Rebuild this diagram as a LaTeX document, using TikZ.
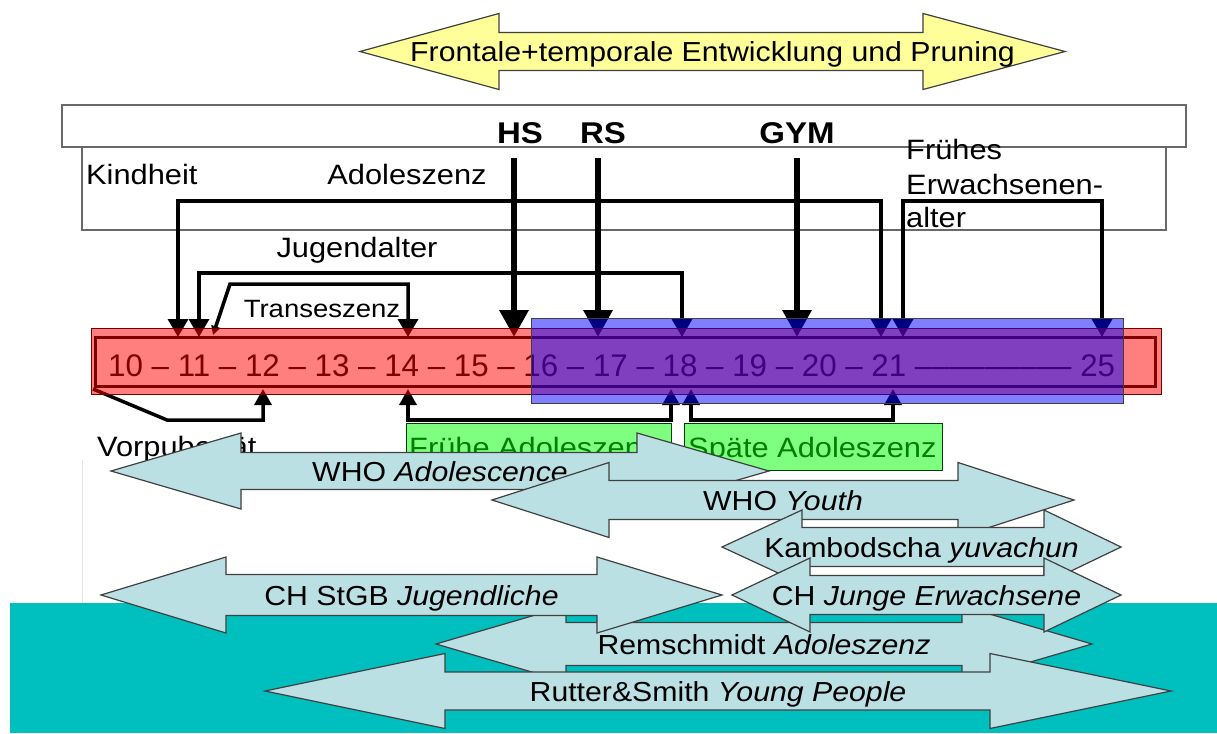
\documentclass[tikz,border=0pt]{standalone}
\usepackage{fontspec}
\setmainfont{Liberation Sans}[FakeStretch=1.1]
\newfontfamily\agesfont{Liberation Sans}
\usetikzlibrary{arrows.meta}
\definecolor{tealbg}{RGB}{0,191,191}
\definecolor{lblue}{RGB}{187,224,228}
\definecolor{lyellow}{RGB}{255,255,153}
\definecolor{edgegray}{RGB}{64,64,64}
\definecolor{boxgray}{RGB}{105,105,105}
\definecolor{faintgray}{RGB}{228,228,228}
\colorlet{arrfill}{lblue}

\newcommand\dblarr[9]{%
  \path[arrowshape] (#2,#6) -- (#3,#6-#7) -- (#3,#6-#8) -- (#4,#6-#8) -- (#4,#6-#7) -- (#5,#6)
     -- (#4,#6+#7) -- (#4,#6+#8) -- (#3,#6+#8) -- (#3,#6+#7) -- cycle;
  \node[arrlabel] (#1) at ({(#2+#5)/2},{#6+10}) {#9};}

\tikzset{
  arrowshape/.style={fill=arrfill, draw=edgegray, line width=1.2pt, line join=miter},
  arrlabel/.style={anchor=base, inner sep=0pt, font=\fontsize{27.5}{30}\selectfont},
  lbl/.style={inner sep=0pt, font=\fontsize{28}{32}\selectfont},
  boldlbl/.style={anchor=base, inner sep=0pt, font=\bfseries\fontsize{30}{32}\selectfont},
  thintip/.tip={Triangle[length=18pt,width=20pt]},
  bigtip/.tip={Triangle[length=27pt,width=28pt]},
  uptip/.tip={Triangle[length=16pt,width=17pt]},
  smalltip/.tip={Triangle[length=9pt,width=9pt]},
  conn/.style={line width=3.5pt},
  thickconn/.style={line width=6.5pt},
  gtextstyle/.style={anchor=base west, inner sep=0pt, font=\fontsize{28}{32}\selectfont},
  gbox/.style={fill=green, fill opacity=0.5, draw=black!75!green, line width=1pt, inner sep=0pt},
}

\begin{document}
\begin{tikzpicture}[x=1pt,y=-1pt]
\useasboundingbox (0,0) rectangle (1217,733);
\fill[white] (0,0) rectangle (1217,733);
% background
\fill[tealbg] (10,603) rectangle (1217,733);
\draw[faintgray, line width=1pt] (82,460) -- (82,603);

% yellow double arrow
\colorlet{arrfill}{lyellow}
\dblarr{front}{360}{499}{923}{1065}{51.5}{38}{19}{Frontale+temporale Entwicklung und Pruning}
\colorlet{arrfill}{lblue}

% header rectangles
\draw[boxgray, line width=1.5pt] (82,147) rectangle (1166,230);
\draw[boxgray, line width=2pt, fill=white] (62,105) rectangle (1186,147);

% labels
\node[boldlbl] (hs) at (520,143) {HS};
\node[boldlbl] (rs) at (603,143) {RS};
\node[boldlbl] (gym) at (797,143) {GYM};
\node[lbl, anchor=base west] (kindheit) at (86,184) {Kindheit};
\node[lbl, anchor=base] (adol) at (407,184) {Adoleszenz};
\node[lbl, anchor=base west] (fr1) at (906,159) {Frühes};
\node[lbl, anchor=base west] (fr2) at (906,194) {Erwachsenen-};
\node[lbl, anchor=base west] (fr3) at (906,227) {alter};
\node[lbl, anchor=base] (jugend) at (357,257) {Jugendalter};
\node[lbl, anchor=base, font=\fontsize{25}{28}\selectfont] (trans) at (322,317) {Transeszenz};

% timeline frame and ages
\draw[line width=3pt] (95,337) rectangle (1155,386);
\node[anchor=base west, inner sep=0pt, font=\agesfont\fontsize{31.3}{34}\selectfont] (ages) at (108,376)
  {10 – 11 – 12 – 13 – 14 – 15 – 16 – 17 – 18 – 19 – 20 – 21 ––––––––– 25};

% connector end points
\coordinate (kL) at (178,337); \coordinate (kR) at (881,337);
\coordinate (jL) at (199,337); \coordinate (jR) at (682,337);
\coordinate (tL) at (213,335); \coordinate (tM) at (230,284); \coordinate (tR) at (408,337);
\coordinate (hsA) at (514,158); \coordinate (hsB) at (514,337);
\coordinate (rsA) at (598,158); \coordinate (rsB) at (598,337);
\coordinate (gyA) at (797,158); \coordinate (gyB) at (797,337);
\coordinate (eL) at (903,337); \coordinate (eR) at (1102,337);
\coordinate (vA) at (93,389); \coordinate (vM) at (167,420); \coordinate (vB) at (263,389);
\coordinate (fL) at (408,389); \coordinate (fR) at (671,389);
\coordinate (sL) at (691,389); \coordinate (sR) at (893,389);

% connectors from above
\draw[conn, thintip-thintip] (kL) -- ++(0,-136) -| (kR);
\draw[conn, thintip-thintip] (jL) -- ++(0,-64) -| (jR);
\draw[conn, smalltip-thintip] (tL) -- (tM) -| (tR);
\draw[thickconn, -bigtip] (hsA) -- (hsB);
\draw[thickconn, -bigtip] (rsA) -- (rsB);
\draw[thickconn, -bigtip] (gyA) -- (gyB);
\draw[conn, thintip-thintip] (eL) -- ++(0,-136) -| (eR);

% connectors from below
\draw[conn, -uptip] (vA) -- (vM) -| (vB);
\draw[conn, uptip-uptip] (fL) -- ++(0,31) -| (fR);
\draw[conn, uptip-uptip] (sL) -- ++(0,31) -| (sR);

% translucent age boxes
\node[fill=red, fill opacity=0.5, draw=red!45!black, line width=1pt, inner sep=0pt,
      minimum width=1070pt, minimum height=66pt] (kidsbox) at (626,361) {};
\node[fill=blue, fill opacity=0.5, draw=black!75, line width=1pt, inner sep=0pt,
      minimum width=592pt, minimum height=85pt] (adultbox) at (827,360.5) {};

% green boxes
\node[gtextstyle] (ftext) at (409,457) {Frühe Adoleszenz};
\node[gtextstyle] (stext) at (688,457) {Späte Adoleszenz};
\node[gbox, minimum width=265pt, minimum height=47pt] (fbox) at (538.5,446.5) {};
\node[gbox, minimum width=258pt, minimum height=47pt] (sbox) at (813,446.5) {};

\node[lbl, anchor=base west] (vorp) at (97,456) {Vorpubertät};

% definitions arrows
\dblarr{whoA}{111}{241}{637}{769}{471}{38}{18.5}{WHO \textit{Adolescence}}
\dblarr{whoY}{492}{609}{958}{1074}{500}{37.5}{19.5}{WHO \textit{Youth}}
\dblarr{kamb}{722}{802}{1044}{1121}{547}{37}{19.5}{Kambodscha \textit{yuvachun}}
\dblarr{rems}{436}{566}{962}{1092}{644}{38}{21.5}{Remschmidt \textit{Adoleszenz}}
\dblarr{stgb}{101}{226}{597}{722}{595}{38}{20.5}{CH StGB \textit{Jugendliche}}
\dblarr{junge}{732}{810}{1044}{1121}{595}{37}{19.5}{CH \textit{Junge Erwachsene}}
\dblarr{rutter}{265}{445}{990}{1171}{691}{37.5}{19}{Rutter\&Smith \textit{Young People}}
\end{tikzpicture}
\end{document}
